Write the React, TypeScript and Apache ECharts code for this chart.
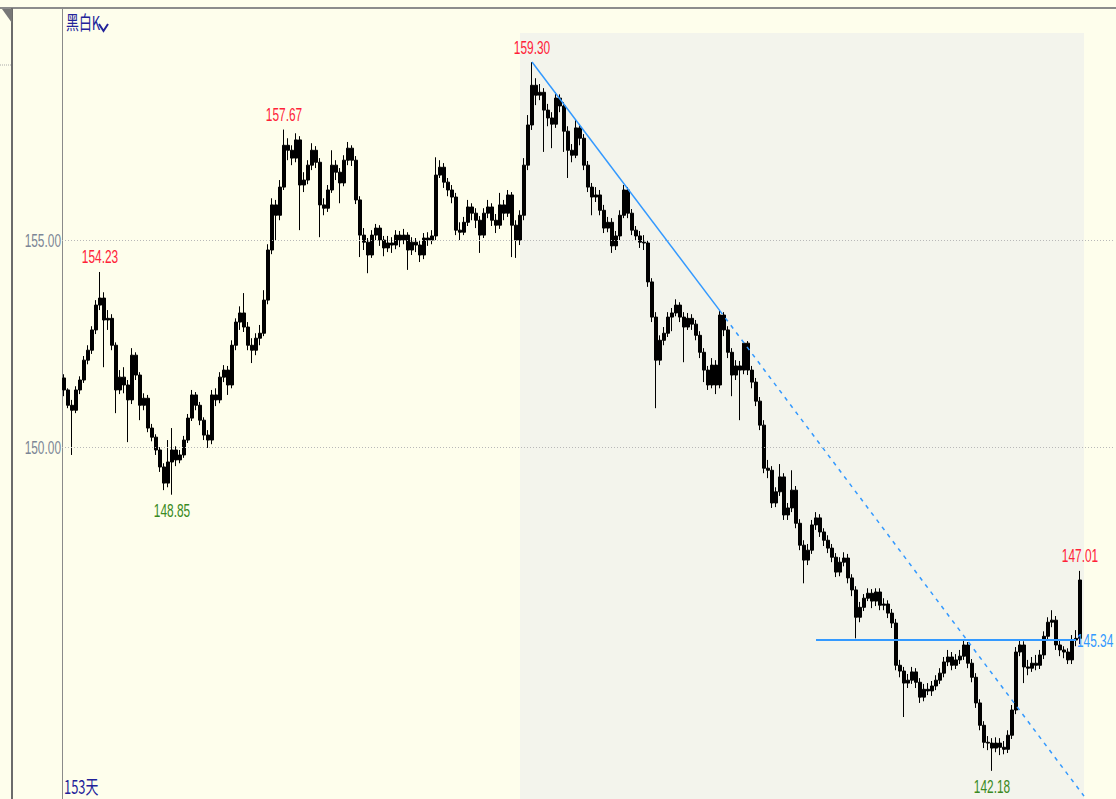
import React, { useEffect, useRef } from 'react';
import * as echarts from 'echarts';

// [open, close, low, high]
const candles: number[][] = [
  [151.67,151.38,151.23,151.76],[151.38,151.01,150.94,151.42],[151.01,150.89,149.81,151.14],[150.89,151.38,150.82,151.47],
  [151.38,151.62,151.28,151.71],[151.62,152.10,151.55,152.20],[152.10,152.34,152.00,152.46],[152.34,152.83,152.25,152.92],
  [152.83,153.43,152.73,153.55],[153.43,153.60,153.31,154.23],[153.60,153.07,151.93,153.74],[153.07,153.11,152.83,153.31],
  [153.11,152.46,152.34,153.21],[152.46,151.38,150.82,152.53],[151.38,151.69,151.28,151.86],[151.69,151.50,151.30,151.93],
  [151.50,151.14,150.12,151.62],[151.14,152.22,151.04,152.39],[152.22,151.74,151.62,152.29],[151.74,151.01,150.65,151.81],
  [151.01,151.18,150.89,151.30],[151.18,150.46,150.36,151.26],[150.46,150.24,150.14,150.56],[150.24,149.93,149.81,150.31],
  [149.93,149.52,149.40,150.00],[149.52,149.13,148.96,149.61],[149.13,149.64,149.03,150.17],[149.64,149.93,148.85,150.46],
  [149.93,149.69,149.54,150.02],[149.69,149.81,149.61,149.93],[149.81,150.17,149.74,150.27],[150.17,150.70,150.10,150.80],
  [150.70,151.26,150.63,151.38],[151.26,151.01,150.89,151.33],[151.01,150.65,150.53,151.09],[150.65,150.29,150.17,150.72],
  [150.29,150.17,149.98,150.41],[150.17,151.26,150.07,151.38],[151.26,151.14,150.99,151.42],[151.14,151.69,151.06,151.81],
  [151.69,151.86,151.57,151.98],[151.86,151.50,151.26,151.96],[151.50,152.46,151.42,152.58],[152.46,153.02,152.34,153.11],
  [153.02,153.24,152.83,153.40],[153.24,152.90,152.78,153.72],[152.90,152.46,152.34,153.02],[152.46,152.34,152.03,152.63],
  [152.34,152.63,152.22,152.75],[152.63,152.75,152.46,152.95],[152.75,153.55,152.68,153.79],[153.55,154.76,153.45,154.90],
  [154.76,155.85,154.66,156.01],[155.85,155.60,155.00,155.97],[155.60,156.28,155.48,156.45],[156.28,157.29,156.21,157.67],
  [157.29,157.17,156.93,157.46],[157.17,156.98,156.81,157.29],[156.98,157.42,156.88,157.58],[157.42,156.33,155.24,157.51],
  [156.33,156.45,156.16,156.64],[156.45,156.81,156.35,156.93],[156.81,157.17,156.69,157.34],[157.17,156.88,156.74,157.27],
  [156.88,155.85,155.07,156.98],[155.85,155.77,155.60,156.01],[155.77,156.21,155.68,156.33],[156.21,156.81,156.14,157.17],
  [156.81,156.64,156.45,156.93],[156.64,156.38,155.89,156.74],[156.38,156.93,156.30,157.05],[156.93,157.22,156.81,157.37],
  [157.22,156.93,156.79,157.29],[156.93,155.97,155.87,157.03],[155.97,155.12,154.59,156.06],[155.12,154.95,154.76,155.29],
  [154.95,154.64,154.20,155.05],[154.64,155.12,154.57,155.24],[155.12,155.29,155.00,155.39],[155.29,155.00,154.86,155.36],
  [155.00,154.81,154.61,155.10],[154.81,154.93,154.71,155.10],[154.93,154.88,154.69,155.07],[154.88,155.12,154.78,155.24],
  [155.12,155.00,154.83,155.22],[155.00,155.12,154.90,155.27],[155.12,154.76,154.28,155.19],[154.76,154.95,154.64,155.07],
  [154.95,154.88,154.71,155.05],[154.88,154.64,154.47,154.98],[154.64,155.05,154.54,155.17],[155.05,155.00,154.86,155.19],
  [155.00,155.10,154.90,155.24],[155.10,156.57,155.00,157.00],[156.57,156.76,156.50,156.93],[156.76,156.40,156.26,156.86],
  [156.40,156.21,156.06,156.50],[156.21,156.04,155.89,156.33],[156.04,155.24,155.12,156.14],[155.24,155.19,155.00,155.43],
  [155.19,155.43,155.12,155.56],[155.43,155.80,155.34,155.97],[155.80,155.65,155.48,155.89],[155.65,155.48,155.29,155.77],
  [155.48,155.12,154.69,155.58],[155.12,155.65,155.05,155.77],[155.65,155.80,155.53,155.97],[155.80,155.48,155.34,155.89],
  [155.48,155.36,155.17,155.63],[155.36,155.85,155.27,156.14],[155.85,155.65,155.48,155.97],[155.65,156.09,155.56,156.21],
  [156.09,155.36,154.59,156.16],[155.36,155.00,154.57,155.48],[155.00,155.60,154.88,155.72],[155.60,156.81,155.48,156.98],
  [156.81,157.78,156.69,158.02],[157.78,158.74,157.66,159.30],[158.74,158.50,158.26,158.91],[158.50,158.57,158.38,158.77],
  [158.57,158.14,157.13,158.67],[158.14,157.95,157.75,158.29],[157.95,157.80,157.22,158.09],[157.80,158.43,157.71,158.57],
  [158.43,158.24,158.09,158.52],[158.24,157.63,157.13,158.33],[157.63,157.17,156.50,157.75],[157.17,157.05,156.88,157.32],
  [157.05,157.71,156.98,157.90],[157.71,157.46,157.29,157.80],[157.46,156.81,156.69,157.56],[156.81,156.28,156.16,156.91],
  [156.28,156.04,155.60,156.38],[156.04,156.09,155.92,156.28],[156.09,155.72,155.60,156.21],[155.72,155.29,155.17,155.85],
  [155.29,155.43,155.19,155.56],[155.43,154.86,154.69,155.53],[154.86,155.10,154.76,155.22],[155.10,155.60,155.00,155.72],
  [155.60,156.21,155.53,156.33],[156.21,155.65,155.53,156.28],[155.65,155.24,155.12,155.75],[155.24,155.10,154.98,155.34],
  [155.10,154.95,154.81,155.22],[154.95,154.93,154.76,155.12],[154.93,153.99,153.87,155.00],[153.99,153.14,153.02,154.08],
  [153.14,152.10,150.94,153.26],[152.10,152.58,151.98,152.70],[152.58,152.75,152.46,152.90],[152.75,153.14,152.66,153.26],
  [153.14,153.24,152.80,153.36],[153.24,153.43,153.16,153.57],[153.43,153.14,153.02,153.50],[153.14,152.90,152.05,153.26],
  [152.90,153.11,152.83,153.24],[153.11,152.97,152.83,153.21],[152.97,152.70,152.58,153.07],[152.70,152.29,152.15,152.80],
  [152.29,151.86,151.57,152.39],[151.86,151.50,151.38,151.96],[151.50,151.98,151.42,152.15],[151.98,151.50,151.28,152.10],
  [151.50,153.19,151.42,153.29],[153.19,152.83,152.68,153.26],[152.83,152.29,152.15,152.92],[152.29,151.74,151.23,152.39],
  [151.74,151.96,151.62,152.10],[151.96,151.86,150.65,152.08],[151.86,152.51,151.76,152.53],[152.51,151.86,151.74,152.56],
  [151.86,151.57,151.42,151.96],[151.57,151.11,150.99,151.67],[151.11,150.53,150.41,151.21],[150.53,149.49,149.37,150.65],
  [149.49,149.44,149.25,149.69],[149.44,148.65,148.53,149.54],[148.65,148.92,148.55,149.03],[148.92,149.28,148.82,149.59],
  [149.28,148.36,148.24,149.37],[148.36,148.53,148.24,148.65],[148.53,148.96,148.43,149.44],[148.96,148.16,148.04,149.06],
  [148.16,147.63,147.51,148.26],[147.63,147.27,146.71,147.75],[147.27,147.51,147.15,147.66],[147.51,148.12,147.42,148.24],
  [148.12,148.29,148.00,148.43],[148.29,147.95,147.83,148.38],[147.95,147.75,147.61,148.04],[147.75,147.56,147.44,147.87],
  [147.56,147.34,147.22,147.66],[147.34,146.98,146.86,147.44],[146.98,147.22,146.88,147.34],[147.22,147.32,147.12,147.46],
  [147.32,146.84,146.71,147.42],[146.84,146.55,146.40,146.93],[146.55,145.89,145.38,146.64],[145.89,146.13,145.77,146.26],
  [146.13,146.35,146.04,146.45],[146.35,146.47,146.28,146.59],[146.47,146.28,146.11,146.57],[146.28,146.50,146.16,146.59],
  [146.50,146.18,146.06,146.59],[146.18,146.21,146.06,146.35],[146.21,145.99,145.87,146.30],[145.99,145.75,145.63,146.09],
  [145.75,144.73,144.61,145.85],[144.73,144.59,144.44,144.86],[144.59,144.30,143.48,144.69],[144.30,144.37,144.18,144.52],
  [144.37,144.57,144.28,144.69],[144.57,144.32,144.18,144.66],[144.32,143.96,143.82,144.42],[143.96,144.15,143.86,144.28],
  [144.15,144.11,144.01,144.30],[144.11,144.23,143.99,144.35],[144.23,144.37,144.13,144.49],[144.37,144.54,144.28,144.66],
  [144.54,144.81,144.44,144.93],[144.81,144.93,144.71,145.10],[144.93,144.73,144.61,145.05],[144.73,144.86,144.64,145.00],
  [144.86,144.95,144.76,145.10],[144.95,145.22,144.86,145.34],[145.22,144.78,144.66,145.29],[144.78,144.44,144.32,144.88],
  [144.44,143.82,143.70,144.54],[143.82,143.28,143.16,143.91],[143.28,142.87,142.73,143.38],[142.87,142.85,142.68,143.02],
  [142.85,142.73,142.18,142.97],[142.73,142.85,142.63,142.99],[142.85,142.75,142.56,142.97],[142.75,142.70,142.58,142.90],
  [142.70,143.04,142.61,143.16],[143.04,143.65,142.95,143.77],[143.65,145.05,143.55,145.17],[145.05,145.22,144.95,145.34],
  [145.22,144.69,144.30,145.31],[144.69,144.66,144.49,144.86],[144.66,144.78,144.57,144.93],[144.78,144.73,144.61,144.98],
  [144.73,144.98,144.64,145.10],[144.98,145.43,144.88,145.55],[145.43,145.77,145.34,145.89],[145.77,145.82,145.65,146.06],
  [145.82,145.22,145.10,145.92],[145.22,145.10,144.95,145.34],[145.10,145.05,144.90,145.19],[145.05,144.86,144.76,145.14],
  [144.86,145.34,144.76,145.46],[145.34,145.38,145.19,145.58],[145.38,146.79,145.24,147.01],
];

// empty slots to the right of the last candle
const padSlots = 8;
const categories: string[] = Array.from({ length: candles.length + padSlots }, (_, i) => String(i));

// annotated extremes
const extremeIdx = [9, 27, 55, 117, 232, 254];
const extremePrice = [154.23, 148.85, 157.67, 159.30, 142.18, 147.01];
const extremeKind = ['high', 'low', 'high', 'high', 'low', 'high'];

const gridLevels = [155, 150];
const trendSolid = [[117, 159.30], [164, 153.29]];
const trendDashed = [[164, 153.29], [255, 141.57]];
const supportFrom = 188;
const supportTo = 253;
const supportPrice = 145.34;
const shadeFrom = 114;
const shadeTo = 255;
const shadeTop = 160.0;
const yMin = 141.5;
const yMax = 160.606;

const LABEL_FONT = '"Liberation Sans", Arial, sans-serif';
const RED = '#FF2238';
const GREEN = '#3A8A22';
const BLUE = '#3399FF';
const NAVY = '#22229A';
const AXIS_TXT = '#7C8696';
const BG = '#FEFEEC';

const narrowText = (x: number, y: number, text: string, fill: string, align: string) => ({
  type: 'text', x, y, scaleX: 0.66, silent: true, z: 100,
  style: { text, fill, fontSize: 18, fontFamily: LABEL_FONT, textAlign: align, textVerticalAlign: 'middle' },
});

export default function App() {
  const ref = useRef<HTMLDivElement>(null);
  useEffect(() => {
    document.body.style.margin = '0';
    const chart = echarts.init(ref.current!, undefined, { renderer: 'svg' });
    const staticGraphic: any[] = [
      { type: 'line', shape: { x1: 0, y1: 8, x2: 1116, y2: 8 }, style: { stroke: '#8c8c8c', lineWidth: 2 } },
      { type: 'line', shape: { x1: 12, y1: 8, x2: 12, y2: 799 }, style: { stroke: '#6b6b6b', lineWidth: 2 } },
      { type: 'polygon', shape: { points: [[2, 9], [12, 9], [12, 23]] }, style: { fill: '#777' } },
      { type: 'line', shape: { x1: 0, y1: 65, x2: 11, y2: 65 }, style: { stroke: '#aaa', lineWidth: 1, lineDash: [1, 1] } },
      { type: 'text', x: 66, y: 12, scaleX: 0.68, style: { text: '黑白K', fontSize: 19, fontFamily: '"Noto Sans CJK SC"', fill: NAVY, textVerticalAlign: 'top' } },
      { type: 'polyline', shape: { points: [[99, 24], [103.5, 31], [108, 24]] }, style: { stroke: NAVY, lineWidth: 2, fill: 'none' } },
      { type: 'text', x: 64, y: 776, scaleX: 0.68, style: { text: '153天', fontSize: 19, fontFamily: '"Noto Sans CJK SC"', fill: NAVY, textVerticalAlign: 'top' } },
    ];
    const option: any = {
      animation: false,
      backgroundColor: BG,
      grid: { left: 62, top: 8, width: categories.length * 4, height: 791 },
      xAxis: { type: 'category', data: categories, show: false, boundaryGap: true },
      yAxis: {
        type: 'value', min: yMin, max: yMax,
        axisLine: { show: true, lineStyle: { color: '#8a8a8a', width: 1 } },
        axisTick: { show: false }, axisLabel: { show: false }, splitLine: { show: false },
      },
      graphic: staticGraphic,
      series: [
        {
          type: 'line', data: [], z: 1, silent: true,
          markArea: {
            silent: true, itemStyle: { color: '#F3F4EC' },
            data: [[{ xAxis: shadeFrom, yAxis: shadeTop }, { xAxis: shadeTo, yAxis: yMin }]],
          },
        },
        {
          type: 'line', data: [], z: 2, silent: true,
          markLine: {
            silent: true, symbol: ['none', 'none'], label: { show: false },
            lineStyle: { type: [1, 2], color: '#b8b8b8', width: 1 },
            data: gridLevels.map((v) => ({ yAxis: v })),
          },
        },
        {
          type: 'candlestick', data: candles, z: 3, barWidth: 3,
          itemStyle: { color: '#000', color0: '#000', borderColor: '#000', borderColor0: '#000', borderWidth: 1 },
        },
        {
          type: 'line', data: [], z: 4, silent: true,
          markLine: {
            silent: true, symbol: ['none', 'none'], label: { show: false },
            data: [
              [{ coord: trendSolid[0], lineStyle: { type: 'solid', color: BLUE, width: 1.5 } }, { coord: trendSolid[1] }],
              [{ coord: trendDashed[0], lineStyle: { type: [4, 5], color: BLUE, width: 1.5 } }, { coord: trendDashed[1] }],
              [{ coord: [supportFrom, supportPrice], lineStyle: { type: 'solid', color: BLUE, width: 2 } }, { coord: [supportTo, supportPrice] }],
            ],
          },
        },
      ],
    };
    chart.setOption(option);

    // texts placed from the data through the chart's own scales
    const toPx = (x: number, y: number) => chart.convertToPixel({ gridIndex: 0 }, [x, y]) as number[];
    const dyn: any[] = [];
    extremeIdx.forEach((idx, k) => {
      const [px, py] = toPx(idx, extremePrice[k]);
      const high = extremeKind[k] === 'high';
      dyn.push(narrowText(px, high ? py - 15 : py + 16, extremePrice[k].toFixed(2), high ? RED : GREEN, 'center'));
    });
    gridLevels.forEach((v) => {
      const [, py] = toPx(0, v);
      dyn.push(narrowText(61, py, v.toFixed(2), AXIS_TXT, 'right'));
    });
    const [sx, sy] = toPx(supportTo, supportPrice);
    dyn.push(narrowText(sx + 1, sy, supportPrice.toFixed(2), BLUE, 'left'));
    chart.setOption({ graphic: [...staticGraphic, ...dyn] });

    return () => chart.dispose();
  }, []);
  return <div ref={ref} style={{ position: 'fixed', left: 0, top: 0, width: 1116, height: 799 }} />;
}
